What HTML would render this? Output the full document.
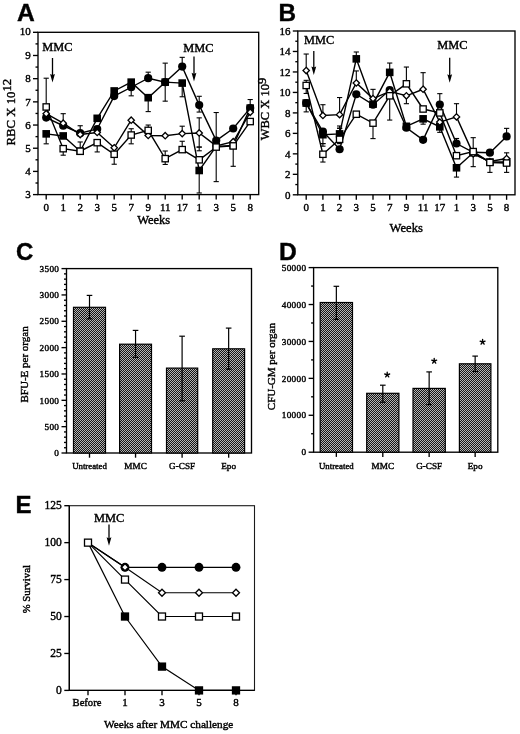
<!DOCTYPE html><html><head><meta charset="utf-8"><style>html,body{margin:0;padding:0;background:#fff;}svg{display:block;font-family:"Liberation Serif",serif;filter:grayscale(1);}svg text{stroke:#000;stroke-width:0.4px;}.pl{font-family:"Liberation Sans",sans-serif;font-weight:bold;}</style></head><body>
<svg width="520" height="734" viewBox="0 0 520 734">
<defs><pattern id="hatch" width="2" height="2" patternUnits="userSpaceOnUse"><rect width="2" height="2" fill="#151515"/><rect x="0" y="0" width="1" height="1" fill="#b4b4b4"/><rect x="1" y="1" width="1" height="1" fill="#b4b4b4"/></pattern></defs>
<rect width="520" height="734" fill="#fff"/>
<text class="pl" x="16.9" y="21.3" font-size="24.6">A</text>
<text class="pl" x="278.4" y="21.2" font-size="24.3">B</text>
<text class="pl" x="16.0" y="260.1" font-size="24">C</text>
<text class="pl" x="279.1" y="260.3" font-size="24.6">D</text>
<text class="pl" x="15.6" y="513.2" font-size="24">E</text>
<rect x="38" y="32.3" width="220.7" height="162.3" stroke="#000" stroke-width="1.35" fill="none"/>
<line x1="33" y1="194.6" x2="38" y2="194.6" stroke="#000" stroke-width="1.35" fill="none"/>
<text x="30.8" y="198.3" font-size="11" text-anchor="end" >3</text>
<line x1="35.5" y1="183.01" x2="38" y2="183.01" stroke="#000" stroke-width="1.35" fill="none"/>
<line x1="33" y1="171.41" x2="38" y2="171.41" stroke="#000" stroke-width="1.35" fill="none"/>
<text x="30.8" y="175.11" font-size="11" text-anchor="end" >4</text>
<line x1="35.5" y1="159.82" x2="38" y2="159.82" stroke="#000" stroke-width="1.35" fill="none"/>
<line x1="33" y1="148.23" x2="38" y2="148.23" stroke="#000" stroke-width="1.35" fill="none"/>
<text x="30.8" y="151.93" font-size="11" text-anchor="end" >5</text>
<line x1="35.5" y1="136.64" x2="38" y2="136.64" stroke="#000" stroke-width="1.35" fill="none"/>
<line x1="33" y1="125.04" x2="38" y2="125.04" stroke="#000" stroke-width="1.35" fill="none"/>
<text x="30.8" y="128.74" font-size="11" text-anchor="end" >6</text>
<line x1="35.5" y1="113.45" x2="38" y2="113.45" stroke="#000" stroke-width="1.35" fill="none"/>
<line x1="33" y1="101.86" x2="38" y2="101.86" stroke="#000" stroke-width="1.35" fill="none"/>
<text x="30.8" y="105.56" font-size="11" text-anchor="end" >7</text>
<line x1="35.5" y1="90.26" x2="38" y2="90.26" stroke="#000" stroke-width="1.35" fill="none"/>
<line x1="33" y1="78.67" x2="38" y2="78.67" stroke="#000" stroke-width="1.35" fill="none"/>
<text x="30.8" y="82.37" font-size="11" text-anchor="end" >8</text>
<line x1="35.5" y1="67.08" x2="38" y2="67.08" stroke="#000" stroke-width="1.35" fill="none"/>
<line x1="33" y1="55.49" x2="38" y2="55.49" stroke="#000" stroke-width="1.35" fill="none"/>
<text x="30.8" y="59.19" font-size="11" text-anchor="end" >9</text>
<line x1="35.5" y1="43.89" x2="38" y2="43.89" stroke="#000" stroke-width="1.35" fill="none"/>
<line x1="33" y1="32.3" x2="38" y2="32.3" stroke="#000" stroke-width="1.35" fill="none"/>
<text x="30.8" y="35.2" font-size="11" text-anchor="end" >10</text>
<line x1="46.2" y1="194.6" x2="46.2" y2="199.6" stroke="#000" stroke-width="1.35" fill="none"/>
<text x="46.2" y="210.6" font-size="11" text-anchor="middle" >0</text>
<line x1="63.2" y1="194.6" x2="63.2" y2="199.6" stroke="#000" stroke-width="1.35" fill="none"/>
<text x="63.2" y="210.6" font-size="11" text-anchor="middle" >1</text>
<line x1="80.2" y1="194.6" x2="80.2" y2="199.6" stroke="#000" stroke-width="1.35" fill="none"/>
<text x="80.2" y="210.6" font-size="11" text-anchor="middle" >2</text>
<line x1="97.2" y1="194.6" x2="97.2" y2="199.6" stroke="#000" stroke-width="1.35" fill="none"/>
<text x="97.2" y="210.6" font-size="11" text-anchor="middle" >3</text>
<line x1="114.2" y1="194.6" x2="114.2" y2="199.6" stroke="#000" stroke-width="1.35" fill="none"/>
<text x="114.2" y="210.6" font-size="11" text-anchor="middle" >5</text>
<line x1="131.2" y1="194.6" x2="131.2" y2="199.6" stroke="#000" stroke-width="1.35" fill="none"/>
<text x="131.2" y="210.6" font-size="11" text-anchor="middle" >7</text>
<line x1="148.2" y1="194.6" x2="148.2" y2="199.6" stroke="#000" stroke-width="1.35" fill="none"/>
<text x="148.2" y="210.6" font-size="11" text-anchor="middle" >9</text>
<line x1="165.2" y1="194.6" x2="165.2" y2="199.6" stroke="#000" stroke-width="1.35" fill="none"/>
<text x="165.2" y="210.6" font-size="11" text-anchor="middle" >11</text>
<line x1="182.2" y1="194.6" x2="182.2" y2="199.6" stroke="#000" stroke-width="1.35" fill="none"/>
<text x="182.2" y="210.6" font-size="11" text-anchor="middle" >17</text>
<line x1="199.2" y1="194.6" x2="199.2" y2="199.6" stroke="#000" stroke-width="1.35" fill="none"/>
<text x="199.2" y="210.6" font-size="11" text-anchor="middle" >1</text>
<line x1="216.2" y1="194.6" x2="216.2" y2="199.6" stroke="#000" stroke-width="1.35" fill="none"/>
<text x="216.2" y="210.6" font-size="11" text-anchor="middle" >3</text>
<line x1="233.2" y1="194.6" x2="233.2" y2="199.6" stroke="#000" stroke-width="1.35" fill="none"/>
<text x="233.2" y="210.6" font-size="11" text-anchor="middle" >5</text>
<line x1="250.2" y1="194.6" x2="250.2" y2="199.6" stroke="#000" stroke-width="1.35" fill="none"/>
<text x="250.2" y="210.6" font-size="11" text-anchor="middle" >8</text>
<text x="137.2" y="224" font-size="12.5" text-anchor="start" >Weeks</text>
<text transform="translate(15.0,145.4) rotate(-90)" font-size="12.75">RBC X 10<tspan dy="-3.9">12</tspan></text>
<text x="42.3" y="51.3" font-size="12.3" text-anchor="start" >MMC</text>
<line x1="52.5" y1="58" x2="52.5" y2="77.5" stroke="#000" stroke-width="1.3"/>
<path d="M50.1 73.9L52.5 75.1L54.9 73.9L52.5 82.5Z" fill="#000"/>
<text x="183.3" y="52" font-size="12.3" text-anchor="start" >MMC</text>
<line x1="194" y1="56.4" x2="194" y2="76.4" stroke="#000" stroke-width="1.3"/>
<path d="M191.6 72.8L194 74L196.4 72.8L194 81.4Z" fill="#000"/>
<line x1="46.2" y1="78.21" x2="46.2" y2="106.96" stroke="#000" stroke-width="1.1"/>
<line x1="43.6" y1="78.21" x2="48.8" y2="78.21" stroke="#000" stroke-width="1.1"/>
<line x1="43.6" y1="106.96" x2="48.8" y2="106.96" stroke="#000" stroke-width="1.1"/>
<line x1="46.2" y1="133.85" x2="46.2" y2="143.82" stroke="#000" stroke-width="1.1"/>
<line x1="43.6" y1="133.85" x2="48.8" y2="133.85" stroke="#000" stroke-width="1.1"/>
<line x1="43.6" y1="143.82" x2="48.8" y2="143.82" stroke="#000" stroke-width="1.1"/>
<line x1="63.2" y1="113.68" x2="63.2" y2="123.19" stroke="#000" stroke-width="1.1"/>
<line x1="60.6" y1="113.68" x2="65.8" y2="113.68" stroke="#000" stroke-width="1.1"/>
<line x1="60.6" y1="123.19" x2="65.8" y2="123.19" stroke="#000" stroke-width="1.1"/>
<line x1="63.2" y1="148.69" x2="63.2" y2="155.18" stroke="#000" stroke-width="1.1"/>
<line x1="60.6" y1="148.69" x2="65.8" y2="148.69" stroke="#000" stroke-width="1.1"/>
<line x1="60.6" y1="155.18" x2="65.8" y2="155.18" stroke="#000" stroke-width="1.1"/>
<line x1="80.2" y1="125.74" x2="80.2" y2="133.16" stroke="#000" stroke-width="1.1"/>
<line x1="77.6" y1="125.74" x2="82.8" y2="125.74" stroke="#000" stroke-width="1.1"/>
<line x1="77.6" y1="133.16" x2="82.8" y2="133.16" stroke="#000" stroke-width="1.1"/>
<line x1="80.2" y1="141.97" x2="80.2" y2="151.24" stroke="#000" stroke-width="1.1"/>
<line x1="77.6" y1="141.97" x2="82.8" y2="141.97" stroke="#000" stroke-width="1.1"/>
<line x1="77.6" y1="151.24" x2="82.8" y2="151.24" stroke="#000" stroke-width="1.1"/>
<line x1="97.2" y1="142.66" x2="97.2" y2="151.94" stroke="#000" stroke-width="1.1"/>
<line x1="94.6" y1="142.66" x2="99.8" y2="142.66" stroke="#000" stroke-width="1.1"/>
<line x1="94.6" y1="151.94" x2="99.8" y2="151.94" stroke="#000" stroke-width="1.1"/>
<line x1="114.2" y1="154.26" x2="114.2" y2="164.23" stroke="#000" stroke-width="1.1"/>
<line x1="111.6" y1="154.26" x2="116.8" y2="154.26" stroke="#000" stroke-width="1.1"/>
<line x1="111.6" y1="164.23" x2="116.8" y2="164.23" stroke="#000" stroke-width="1.1"/>
<line x1="131.2" y1="87.25" x2="131.2" y2="95.83" stroke="#000" stroke-width="1.1"/>
<line x1="128.6" y1="87.25" x2="133.8" y2="87.25" stroke="#000" stroke-width="1.1"/>
<line x1="128.6" y1="95.83" x2="133.8" y2="95.83" stroke="#000" stroke-width="1.1"/>
<line x1="131.2" y1="128.75" x2="131.2" y2="143.82" stroke="#000" stroke-width="1.1"/>
<line x1="128.6" y1="128.75" x2="133.8" y2="128.75" stroke="#000" stroke-width="1.1"/>
<line x1="128.6" y1="143.82" x2="133.8" y2="143.82" stroke="#000" stroke-width="1.1"/>
<line x1="148.2" y1="72.18" x2="148.2" y2="78.21" stroke="#000" stroke-width="1.1"/>
<line x1="145.6" y1="72.18" x2="150.8" y2="72.18" stroke="#000" stroke-width="1.1"/>
<line x1="145.6" y1="78.21" x2="150.8" y2="78.21" stroke="#000" stroke-width="1.1"/>
<line x1="148.2" y1="97.68" x2="148.2" y2="111.6" stroke="#000" stroke-width="1.1"/>
<line x1="145.6" y1="97.68" x2="150.8" y2="97.68" stroke="#000" stroke-width="1.1"/>
<line x1="145.6" y1="111.6" x2="150.8" y2="111.6" stroke="#000" stroke-width="1.1"/>
<line x1="148.2" y1="125.04" x2="148.2" y2="130.38" stroke="#000" stroke-width="1.1"/>
<line x1="145.6" y1="125.04" x2="150.8" y2="125.04" stroke="#000" stroke-width="1.1"/>
<line x1="145.6" y1="130.38" x2="150.8" y2="130.38" stroke="#000" stroke-width="1.1"/>
<line x1="165.2" y1="63.14" x2="165.2" y2="82.15" stroke="#000" stroke-width="1.1"/>
<line x1="162.6" y1="63.14" x2="167.8" y2="63.14" stroke="#000" stroke-width="1.1"/>
<line x1="162.6" y1="82.15" x2="167.8" y2="82.15" stroke="#000" stroke-width="1.1"/>
<line x1="165.2" y1="82.15" x2="165.2" y2="101.16" stroke="#000" stroke-width="1.1"/>
<line x1="162.6" y1="82.15" x2="167.8" y2="82.15" stroke="#000" stroke-width="1.1"/>
<line x1="162.6" y1="101.16" x2="167.8" y2="101.16" stroke="#000" stroke-width="1.1"/>
<line x1="165.2" y1="151.01" x2="165.2" y2="164.46" stroke="#000" stroke-width="1.1"/>
<line x1="162.6" y1="151.01" x2="167.8" y2="151.01" stroke="#000" stroke-width="1.1"/>
<line x1="162.6" y1="164.46" x2="167.8" y2="164.46" stroke="#000" stroke-width="1.1"/>
<line x1="182.2" y1="57.34" x2="182.2" y2="66.61" stroke="#000" stroke-width="1.1"/>
<line x1="179.6" y1="57.34" x2="184.8" y2="57.34" stroke="#000" stroke-width="1.1"/>
<line x1="179.6" y1="66.61" x2="184.8" y2="66.61" stroke="#000" stroke-width="1.1"/>
<line x1="182.2" y1="83.08" x2="182.2" y2="96.76" stroke="#000" stroke-width="1.1"/>
<line x1="179.6" y1="83.08" x2="184.8" y2="83.08" stroke="#000" stroke-width="1.1"/>
<line x1="179.6" y1="96.76" x2="184.8" y2="96.76" stroke="#000" stroke-width="1.1"/>
<line x1="182.2" y1="126.2" x2="182.2" y2="133.62" stroke="#000" stroke-width="1.1"/>
<line x1="179.6" y1="126.2" x2="184.8" y2="126.2" stroke="#000" stroke-width="1.1"/>
<line x1="179.6" y1="133.62" x2="184.8" y2="133.62" stroke="#000" stroke-width="1.1"/>
<line x1="182.2" y1="141.27" x2="182.2" y2="149.62" stroke="#000" stroke-width="1.1"/>
<line x1="179.6" y1="141.27" x2="184.8" y2="141.27" stroke="#000" stroke-width="1.1"/>
<line x1="179.6" y1="149.62" x2="184.8" y2="149.62" stroke="#000" stroke-width="1.1"/>
<line x1="199.2" y1="96.29" x2="199.2" y2="112.06" stroke="#000" stroke-width="1.1"/>
<line x1="196.6" y1="96.29" x2="201.8" y2="96.29" stroke="#000" stroke-width="1.1"/>
<line x1="196.6" y1="112.06" x2="201.8" y2="112.06" stroke="#000" stroke-width="1.1"/>
<line x1="199.2" y1="170.49" x2="199.2" y2="192.98" stroke="#000" stroke-width="1.1"/>
<line x1="196.6" y1="170.49" x2="201.8" y2="170.49" stroke="#000" stroke-width="1.1"/>
<line x1="196.6" y1="192.98" x2="201.8" y2="192.98" stroke="#000" stroke-width="1.1"/>
<line x1="199.2" y1="117.86" x2="199.2" y2="150.78" stroke="#000" stroke-width="1.1"/>
<line x1="196.6" y1="117.86" x2="201.8" y2="117.86" stroke="#000" stroke-width="1.1"/>
<line x1="196.6" y1="150.78" x2="201.8" y2="150.78" stroke="#000" stroke-width="1.1"/>
<line x1="199.2" y1="147.07" x2="199.2" y2="147.07" stroke="#000" stroke-width="1.1"/>
<line x1="196.6" y1="147.07" x2="201.8" y2="147.07" stroke="#000" stroke-width="1.1"/>
<line x1="196.6" y1="147.07" x2="201.8" y2="147.07" stroke="#000" stroke-width="1.1"/>
<line x1="216.2" y1="112.52" x2="216.2" y2="181.62" stroke="#000" stroke-width="1.1"/>
<line x1="213.6" y1="112.52" x2="218.8" y2="112.52" stroke="#000" stroke-width="1.1"/>
<line x1="213.6" y1="181.62" x2="218.8" y2="181.62" stroke="#000" stroke-width="1.1"/>
<line x1="233.2" y1="145.91" x2="233.2" y2="166.31" stroke="#000" stroke-width="1.1"/>
<line x1="230.6" y1="145.91" x2="235.8" y2="145.91" stroke="#000" stroke-width="1.1"/>
<line x1="230.6" y1="166.31" x2="235.8" y2="166.31" stroke="#000" stroke-width="1.1"/>
<line x1="250.2" y1="99.54" x2="250.2" y2="108.12" stroke="#000" stroke-width="1.1"/>
<line x1="247.6" y1="99.54" x2="252.8" y2="99.54" stroke="#000" stroke-width="1.1"/>
<line x1="247.6" y1="108.12" x2="252.8" y2="108.12" stroke="#000" stroke-width="1.1"/>
<polyline points="46.2,133.85 63.2,135.94 80.2,151.24 97.2,118.32 114.2,90.96 131.2,82.15 148.2,97.68 165.2,82.15 182.2,83.08 199.2,170.49 216.2,146.37 233.2,145.45 250.2,108.12" stroke="#000" stroke-width="1.4" fill="none"/>
<polyline points="46.2,117.62 63.2,125.74 80.2,133.16 97.2,128.98 114.2,96.06 131.2,87.25 148.2,78.21 165.2,82.15 182.2,66.61 199.2,105.1 216.2,140.58 233.2,128.52 250.2,108.12" stroke="#000" stroke-width="1.4" fill="none"/>
<polyline points="46.2,113.68 63.2,123.19 80.2,134.55 97.2,132.46 114.2,147.76 131.2,120.17 148.2,135.48 165.2,135.71 182.2,133.62 199.2,132.93 216.2,145.91 233.2,141.74 250.2,112.29" stroke="#000" stroke-width="1.4" fill="none"/>
<polyline points="46.2,106.96 63.2,148.69 80.2,151.24 97.2,142.66 114.2,154.26 131.2,135.01 148.2,130.38 165.2,158.66 182.2,149.62 199.2,159.82 216.2,147.07 233.2,145.91 250.2,121.56" stroke="#000" stroke-width="1.4" fill="none"/>
<rect x="42.4" y="130.05" width="7.6" height="7.6" fill="#000"/>
<rect x="59.4" y="132.14" width="7.6" height="7.6" fill="#000"/>
<rect x="76.4" y="147.44" width="7.6" height="7.6" fill="#000"/>
<rect x="93.4" y="114.52" width="7.6" height="7.6" fill="#000"/>
<rect x="110.4" y="87.16" width="7.6" height="7.6" fill="#000"/>
<rect x="127.4" y="78.35" width="7.6" height="7.6" fill="#000"/>
<rect x="144.4" y="93.88" width="7.6" height="7.6" fill="#000"/>
<rect x="161.4" y="78.35" width="7.6" height="7.6" fill="#000"/>
<rect x="178.4" y="79.28" width="7.6" height="7.6" fill="#000"/>
<rect x="195.4" y="166.69" width="7.6" height="7.6" fill="#000"/>
<rect x="212.4" y="142.57" width="7.6" height="7.6" fill="#000"/>
<rect x="229.4" y="141.65" width="7.6" height="7.6" fill="#000"/>
<rect x="246.4" y="104.32" width="7.6" height="7.6" fill="#000"/>
<circle cx="46.2" cy="117.62" r="4.1" fill="#000"/>
<circle cx="63.2" cy="125.74" r="4.1" fill="#000"/>
<circle cx="80.2" cy="133.16" r="4.1" fill="#000"/>
<circle cx="97.2" cy="128.98" r="4.1" fill="#000"/>
<circle cx="114.2" cy="96.06" r="4.1" fill="#000"/>
<circle cx="131.2" cy="87.25" r="4.1" fill="#000"/>
<circle cx="148.2" cy="78.21" r="4.1" fill="#000"/>
<circle cx="165.2" cy="82.15" r="4.1" fill="#000"/>
<circle cx="182.2" cy="66.61" r="4.1" fill="#000"/>
<circle cx="199.2" cy="105.1" r="4.1" fill="#000"/>
<circle cx="216.2" cy="140.58" r="4.1" fill="#000"/>
<circle cx="233.2" cy="128.52" r="4.1" fill="#000"/>
<circle cx="250.2" cy="108.12" r="4.1" fill="#000"/>
<path d="M46.2 110.49L49.39 113.68L46.2 116.87L43.01 113.68Z" fill="#fff" stroke="#000" stroke-width="1.3"/>
<path d="M63.2 120L66.39 123.19L63.2 126.38L60.01 123.19Z" fill="#fff" stroke="#000" stroke-width="1.3"/>
<path d="M80.2 131.36L83.39 134.55L80.2 137.74L77.01 134.55Z" fill="#fff" stroke="#000" stroke-width="1.3"/>
<path d="M97.2 129.27L100.39 132.46L97.2 135.65L94.01 132.46Z" fill="#fff" stroke="#000" stroke-width="1.3"/>
<path d="M114.2 144.57L117.39 147.76L114.2 150.96L111.01 147.76Z" fill="#fff" stroke="#000" stroke-width="1.3"/>
<path d="M131.2 116.98L134.39 120.17L131.2 123.37L128.01 120.17Z" fill="#fff" stroke="#000" stroke-width="1.3"/>
<path d="M148.2 132.28L151.39 135.48L148.2 138.67L145.01 135.48Z" fill="#fff" stroke="#000" stroke-width="1.3"/>
<path d="M165.2 132.52L168.39 135.71L165.2 138.9L162.01 135.71Z" fill="#fff" stroke="#000" stroke-width="1.3"/>
<path d="M182.2 130.43L185.39 133.62L182.2 136.81L179.01 133.62Z" fill="#fff" stroke="#000" stroke-width="1.3"/>
<path d="M199.2 129.73L202.39 132.93L199.2 136.12L196.01 132.93Z" fill="#fff" stroke="#000" stroke-width="1.3"/>
<path d="M216.2 142.72L219.39 145.91L216.2 149.1L213.01 145.91Z" fill="#fff" stroke="#000" stroke-width="1.3"/>
<path d="M233.2 138.54L236.39 141.74L233.2 144.93L230.01 141.74Z" fill="#fff" stroke="#000" stroke-width="1.3"/>
<path d="M250.2 109.1L253.39 112.29L250.2 115.48L247.01 112.29Z" fill="#fff" stroke="#000" stroke-width="1.3"/>
<rect x="43.05" y="103.81" width="6.3" height="6.3" fill="#fff" stroke="#000" stroke-width="1.3"/>
<rect x="60.05" y="145.54" width="6.3" height="6.3" fill="#fff" stroke="#000" stroke-width="1.3"/>
<rect x="77.05" y="148.09" width="6.3" height="6.3" fill="#fff" stroke="#000" stroke-width="1.3"/>
<rect x="94.05" y="139.51" width="6.3" height="6.3" fill="#fff" stroke="#000" stroke-width="1.3"/>
<rect x="111.05" y="151.11" width="6.3" height="6.3" fill="#fff" stroke="#000" stroke-width="1.3"/>
<rect x="128.05" y="131.86" width="6.3" height="6.3" fill="#fff" stroke="#000" stroke-width="1.3"/>
<rect x="145.05" y="127.23" width="6.3" height="6.3" fill="#fff" stroke="#000" stroke-width="1.3"/>
<rect x="162.05" y="155.51" width="6.3" height="6.3" fill="#fff" stroke="#000" stroke-width="1.3"/>
<rect x="179.05" y="146.47" width="6.3" height="6.3" fill="#fff" stroke="#000" stroke-width="1.3"/>
<rect x="196.05" y="156.67" width="6.3" height="6.3" fill="#fff" stroke="#000" stroke-width="1.3"/>
<rect x="213.05" y="143.92" width="6.3" height="6.3" fill="#fff" stroke="#000" stroke-width="1.3"/>
<rect x="230.05" y="142.76" width="6.3" height="6.3" fill="#fff" stroke="#000" stroke-width="1.3"/>
<rect x="247.05" y="118.41" width="6.3" height="6.3" fill="#fff" stroke="#000" stroke-width="1.3"/>
<rect x="297.8" y="31" width="217.2" height="163.8" stroke="#000" stroke-width="1.35" fill="none"/>
<line x1="292.8" y1="194.8" x2="297.8" y2="194.8" stroke="#000" stroke-width="1.35" fill="none"/>
<text x="290.6" y="198.5" font-size="11" text-anchor="end" >0</text>
<line x1="295.3" y1="184.56" x2="297.8" y2="184.56" stroke="#000" stroke-width="1.35" fill="none"/>
<line x1="292.8" y1="174.33" x2="297.8" y2="174.33" stroke="#000" stroke-width="1.35" fill="none"/>
<text x="290.6" y="178.03" font-size="11" text-anchor="end" >2</text>
<line x1="295.3" y1="164.09" x2="297.8" y2="164.09" stroke="#000" stroke-width="1.35" fill="none"/>
<line x1="292.8" y1="153.85" x2="297.8" y2="153.85" stroke="#000" stroke-width="1.35" fill="none"/>
<text x="290.6" y="157.55" font-size="11" text-anchor="end" >4</text>
<line x1="295.3" y1="143.61" x2="297.8" y2="143.61" stroke="#000" stroke-width="1.35" fill="none"/>
<line x1="292.8" y1="133.38" x2="297.8" y2="133.38" stroke="#000" stroke-width="1.35" fill="none"/>
<text x="290.6" y="137.07" font-size="11" text-anchor="end" >6</text>
<line x1="295.3" y1="123.14" x2="297.8" y2="123.14" stroke="#000" stroke-width="1.35" fill="none"/>
<line x1="292.8" y1="112.9" x2="297.8" y2="112.9" stroke="#000" stroke-width="1.35" fill="none"/>
<text x="290.6" y="116.6" font-size="11" text-anchor="end" >8</text>
<line x1="295.3" y1="102.66" x2="297.8" y2="102.66" stroke="#000" stroke-width="1.35" fill="none"/>
<line x1="292.8" y1="92.43" x2="297.8" y2="92.43" stroke="#000" stroke-width="1.35" fill="none"/>
<text x="290.6" y="96.13" font-size="11" text-anchor="end" >10</text>
<line x1="295.3" y1="82.19" x2="297.8" y2="82.19" stroke="#000" stroke-width="1.35" fill="none"/>
<line x1="292.8" y1="71.95" x2="297.8" y2="71.95" stroke="#000" stroke-width="1.35" fill="none"/>
<text x="290.6" y="75.65" font-size="11" text-anchor="end" >12</text>
<line x1="295.3" y1="61.71" x2="297.8" y2="61.71" stroke="#000" stroke-width="1.35" fill="none"/>
<line x1="292.8" y1="51.47" x2="297.8" y2="51.47" stroke="#000" stroke-width="1.35" fill="none"/>
<text x="290.6" y="55.17" font-size="11" text-anchor="end" >14</text>
<line x1="295.3" y1="41.24" x2="297.8" y2="41.24" stroke="#000" stroke-width="1.35" fill="none"/>
<line x1="292.8" y1="31" x2="297.8" y2="31" stroke="#000" stroke-width="1.35" fill="none"/>
<text x="290.6" y="34.7" font-size="11" text-anchor="end" >16</text>
<line x1="306.2" y1="194.8" x2="306.2" y2="199.8" stroke="#000" stroke-width="1.35" fill="none"/>
<text x="306.2" y="210.6" font-size="11" text-anchor="middle" >0</text>
<line x1="322.9" y1="194.8" x2="322.9" y2="199.8" stroke="#000" stroke-width="1.35" fill="none"/>
<text x="322.9" y="210.6" font-size="11" text-anchor="middle" >1</text>
<line x1="339.6" y1="194.8" x2="339.6" y2="199.8" stroke="#000" stroke-width="1.35" fill="none"/>
<text x="339.6" y="210.6" font-size="11" text-anchor="middle" >2</text>
<line x1="356.3" y1="194.8" x2="356.3" y2="199.8" stroke="#000" stroke-width="1.35" fill="none"/>
<text x="356.3" y="210.6" font-size="11" text-anchor="middle" >3</text>
<line x1="373" y1="194.8" x2="373" y2="199.8" stroke="#000" stroke-width="1.35" fill="none"/>
<text x="373" y="210.6" font-size="11" text-anchor="middle" >5</text>
<line x1="389.7" y1="194.8" x2="389.7" y2="199.8" stroke="#000" stroke-width="1.35" fill="none"/>
<text x="389.7" y="210.6" font-size="11" text-anchor="middle" >7</text>
<line x1="406.4" y1="194.8" x2="406.4" y2="199.8" stroke="#000" stroke-width="1.35" fill="none"/>
<text x="406.4" y="210.6" font-size="11" text-anchor="middle" >9</text>
<line x1="423.1" y1="194.8" x2="423.1" y2="199.8" stroke="#000" stroke-width="1.35" fill="none"/>
<text x="423.1" y="210.6" font-size="11" text-anchor="middle" >11</text>
<line x1="439.8" y1="194.8" x2="439.8" y2="199.8" stroke="#000" stroke-width="1.35" fill="none"/>
<text x="439.8" y="210.6" font-size="11" text-anchor="middle" >17</text>
<line x1="456.5" y1="194.8" x2="456.5" y2="199.8" stroke="#000" stroke-width="1.35" fill="none"/>
<text x="456.5" y="210.6" font-size="11" text-anchor="middle" >1</text>
<line x1="473.2" y1="194.8" x2="473.2" y2="199.8" stroke="#000" stroke-width="1.35" fill="none"/>
<text x="473.2" y="210.6" font-size="11" text-anchor="middle" >3</text>
<line x1="489.9" y1="194.8" x2="489.9" y2="199.8" stroke="#000" stroke-width="1.35" fill="none"/>
<text x="489.9" y="210.6" font-size="11" text-anchor="middle" >5</text>
<line x1="506.6" y1="194.8" x2="506.6" y2="199.8" stroke="#000" stroke-width="1.35" fill="none"/>
<text x="506.6" y="210.6" font-size="11" text-anchor="middle" >8</text>
<text x="389.6" y="231.7" font-size="12.6" text-anchor="start" >Weeks</text>
<text transform="translate(269.3,140.3) rotate(-90)" font-size="12.5">WBC X 10<tspan dy="-3.5">9</tspan></text>
<text x="304.1" y="44.4" font-size="12.3" text-anchor="start" >MMC</text>
<line x1="313.8" y1="51" x2="313.8" y2="70" stroke="#000" stroke-width="1.3"/>
<path d="M311.4 66.4L313.8 67.6L316.2 66.4L313.8 75Z" fill="#000"/>
<text x="437.3" y="49.2" font-size="12.3" text-anchor="start" >MMC</text>
<line x1="449.7" y1="57.8" x2="449.7" y2="77.8" stroke="#000" stroke-width="1.3"/>
<path d="M447.3 74.2L449.7 75.4L452.1 74.2L449.7 82.8Z" fill="#000"/>
<line x1="306.2" y1="54.03" x2="306.2" y2="70.52" stroke="#000" stroke-width="1.1"/>
<line x1="303.6" y1="54.03" x2="308.8" y2="54.03" stroke="#000" stroke-width="1.1"/>
<line x1="303.6" y1="70.52" x2="308.8" y2="70.52" stroke="#000" stroke-width="1.1"/>
<line x1="306.2" y1="80.34" x2="306.2" y2="93.45" stroke="#000" stroke-width="1.1"/>
<line x1="303.6" y1="80.34" x2="308.8" y2="80.34" stroke="#000" stroke-width="1.1"/>
<line x1="303.6" y1="93.45" x2="308.8" y2="93.45" stroke="#000" stroke-width="1.1"/>
<line x1="306.2" y1="103.07" x2="306.2" y2="111.88" stroke="#000" stroke-width="1.1"/>
<line x1="303.6" y1="103.07" x2="308.8" y2="103.07" stroke="#000" stroke-width="1.1"/>
<line x1="303.6" y1="111.88" x2="308.8" y2="111.88" stroke="#000" stroke-width="1.1"/>
<line x1="322.9" y1="104.71" x2="322.9" y2="115.46" stroke="#000" stroke-width="1.1"/>
<line x1="320.3" y1="104.71" x2="325.5" y2="104.71" stroke="#000" stroke-width="1.1"/>
<line x1="320.3" y1="115.46" x2="325.5" y2="115.46" stroke="#000" stroke-width="1.1"/>
<line x1="322.9" y1="131.53" x2="322.9" y2="146.17" stroke="#000" stroke-width="1.1"/>
<line x1="320.3" y1="131.53" x2="325.5" y2="131.53" stroke="#000" stroke-width="1.1"/>
<line x1="320.3" y1="146.17" x2="325.5" y2="146.17" stroke="#000" stroke-width="1.1"/>
<line x1="322.9" y1="143.61" x2="322.9" y2="143.61" stroke="#000" stroke-width="1.1"/>
<line x1="320.3" y1="143.61" x2="325.5" y2="143.61" stroke="#000" stroke-width="1.1"/>
<line x1="320.3" y1="143.61" x2="325.5" y2="143.61" stroke="#000" stroke-width="1.1"/>
<line x1="322.9" y1="154.26" x2="322.9" y2="162.04" stroke="#000" stroke-width="1.1"/>
<line x1="320.3" y1="154.26" x2="325.5" y2="154.26" stroke="#000" stroke-width="1.1"/>
<line x1="320.3" y1="162.04" x2="325.5" y2="162.04" stroke="#000" stroke-width="1.1"/>
<line x1="339.6" y1="97.54" x2="339.6" y2="114.64" stroke="#000" stroke-width="1.1"/>
<line x1="337" y1="97.54" x2="342.2" y2="97.54" stroke="#000" stroke-width="1.1"/>
<line x1="337" y1="114.64" x2="342.2" y2="114.64" stroke="#000" stroke-width="1.1"/>
<line x1="339.6" y1="126" x2="339.6" y2="133.89" stroke="#000" stroke-width="1.1"/>
<line x1="337" y1="126" x2="342.2" y2="126" stroke="#000" stroke-width="1.1"/>
<line x1="337" y1="133.89" x2="342.2" y2="133.89" stroke="#000" stroke-width="1.1"/>
<line x1="339.6" y1="128.26" x2="339.6" y2="128.26" stroke="#000" stroke-width="1.1"/>
<line x1="337" y1="128.26" x2="342.2" y2="128.26" stroke="#000" stroke-width="1.1"/>
<line x1="337" y1="128.26" x2="342.2" y2="128.26" stroke="#000" stroke-width="1.1"/>
<line x1="339.6" y1="133.89" x2="339.6" y2="143.61" stroke="#000" stroke-width="1.1"/>
<line x1="337" y1="133.89" x2="342.2" y2="133.89" stroke="#000" stroke-width="1.1"/>
<line x1="337" y1="143.61" x2="342.2" y2="143.61" stroke="#000" stroke-width="1.1"/>
<line x1="356.3" y1="51.99" x2="356.3" y2="58.85" stroke="#000" stroke-width="1.1"/>
<line x1="353.7" y1="51.99" x2="358.9" y2="51.99" stroke="#000" stroke-width="1.1"/>
<line x1="353.7" y1="58.85" x2="358.9" y2="58.85" stroke="#000" stroke-width="1.1"/>
<line x1="356.3" y1="70.93" x2="356.3" y2="83.01" stroke="#000" stroke-width="1.1"/>
<line x1="353.7" y1="70.93" x2="358.9" y2="70.93" stroke="#000" stroke-width="1.1"/>
<line x1="353.7" y1="83.01" x2="358.9" y2="83.01" stroke="#000" stroke-width="1.1"/>
<line x1="373" y1="89.35" x2="373" y2="98.57" stroke="#000" stroke-width="1.1"/>
<line x1="370.4" y1="89.35" x2="375.6" y2="89.35" stroke="#000" stroke-width="1.1"/>
<line x1="370.4" y1="98.57" x2="375.6" y2="98.57" stroke="#000" stroke-width="1.1"/>
<line x1="373" y1="123.14" x2="373" y2="138.6" stroke="#000" stroke-width="1.1"/>
<line x1="370.4" y1="123.14" x2="375.6" y2="123.14" stroke="#000" stroke-width="1.1"/>
<line x1="370.4" y1="138.6" x2="375.6" y2="138.6" stroke="#000" stroke-width="1.1"/>
<line x1="389.7" y1="63.04" x2="389.7" y2="72.36" stroke="#000" stroke-width="1.1"/>
<line x1="387.1" y1="63.04" x2="392.3" y2="63.04" stroke="#000" stroke-width="1.1"/>
<line x1="387.1" y1="72.36" x2="392.3" y2="72.36" stroke="#000" stroke-width="1.1"/>
<line x1="389.7" y1="95.8" x2="389.7" y2="120.07" stroke="#000" stroke-width="1.1"/>
<line x1="387.1" y1="95.8" x2="392.3" y2="95.8" stroke="#000" stroke-width="1.1"/>
<line x1="387.1" y1="120.07" x2="392.3" y2="120.07" stroke="#000" stroke-width="1.1"/>
<line x1="406.4" y1="67.04" x2="406.4" y2="83.83" stroke="#000" stroke-width="1.1"/>
<line x1="403.8" y1="67.04" x2="409" y2="67.04" stroke="#000" stroke-width="1.1"/>
<line x1="403.8" y1="83.83" x2="409" y2="83.83" stroke="#000" stroke-width="1.1"/>
<line x1="406.4" y1="95.8" x2="406.4" y2="103.69" stroke="#000" stroke-width="1.1"/>
<line x1="403.8" y1="95.8" x2="409" y2="95.8" stroke="#000" stroke-width="1.1"/>
<line x1="403.8" y1="103.69" x2="409" y2="103.69" stroke="#000" stroke-width="1.1"/>
<line x1="423.1" y1="72.67" x2="423.1" y2="89.25" stroke="#000" stroke-width="1.1"/>
<line x1="420.5" y1="72.67" x2="425.7" y2="72.67" stroke="#000" stroke-width="1.1"/>
<line x1="420.5" y1="89.25" x2="425.7" y2="89.25" stroke="#000" stroke-width="1.1"/>
<line x1="423.1" y1="118.84" x2="423.1" y2="124.16" stroke="#000" stroke-width="1.1"/>
<line x1="420.5" y1="118.84" x2="425.7" y2="118.84" stroke="#000" stroke-width="1.1"/>
<line x1="420.5" y1="124.16" x2="425.7" y2="124.16" stroke="#000" stroke-width="1.1"/>
<line x1="439.8" y1="93.65" x2="439.8" y2="104.51" stroke="#000" stroke-width="1.1"/>
<line x1="437.2" y1="93.65" x2="442.4" y2="93.65" stroke="#000" stroke-width="1.1"/>
<line x1="437.2" y1="104.51" x2="442.4" y2="104.51" stroke="#000" stroke-width="1.1"/>
<line x1="439.8" y1="126.82" x2="439.8" y2="132.35" stroke="#000" stroke-width="1.1"/>
<line x1="437.2" y1="126.82" x2="442.4" y2="126.82" stroke="#000" stroke-width="1.1"/>
<line x1="437.2" y1="132.35" x2="442.4" y2="132.35" stroke="#000" stroke-width="1.1"/>
<line x1="456.5" y1="103.69" x2="456.5" y2="116.89" stroke="#000" stroke-width="1.1"/>
<line x1="453.9" y1="103.69" x2="459.1" y2="103.69" stroke="#000" stroke-width="1.1"/>
<line x1="453.9" y1="116.89" x2="459.1" y2="116.89" stroke="#000" stroke-width="1.1"/>
<line x1="456.5" y1="167.77" x2="456.5" y2="177.09" stroke="#000" stroke-width="1.1"/>
<line x1="453.9" y1="167.77" x2="459.1" y2="167.77" stroke="#000" stroke-width="1.1"/>
<line x1="453.9" y1="177.09" x2="459.1" y2="177.09" stroke="#000" stroke-width="1.1"/>
<line x1="456.5" y1="138.49" x2="456.5" y2="143.51" stroke="#000" stroke-width="1.1"/>
<line x1="453.9" y1="138.49" x2="459.1" y2="138.49" stroke="#000" stroke-width="1.1"/>
<line x1="453.9" y1="143.51" x2="459.1" y2="143.51" stroke="#000" stroke-width="1.1"/>
<line x1="473.2" y1="137.67" x2="473.2" y2="151.6" stroke="#000" stroke-width="1.1"/>
<line x1="470.6" y1="137.67" x2="475.8" y2="137.67" stroke="#000" stroke-width="1.1"/>
<line x1="470.6" y1="151.6" x2="475.8" y2="151.6" stroke="#000" stroke-width="1.1"/>
<line x1="473.2" y1="153.85" x2="473.2" y2="166.65" stroke="#000" stroke-width="1.1"/>
<line x1="470.6" y1="153.85" x2="475.8" y2="153.85" stroke="#000" stroke-width="1.1"/>
<line x1="470.6" y1="166.65" x2="475.8" y2="166.65" stroke="#000" stroke-width="1.1"/>
<line x1="489.9" y1="162.45" x2="489.9" y2="172.38" stroke="#000" stroke-width="1.1"/>
<line x1="487.3" y1="162.45" x2="492.5" y2="162.45" stroke="#000" stroke-width="1.1"/>
<line x1="487.3" y1="172.38" x2="492.5" y2="172.38" stroke="#000" stroke-width="1.1"/>
<line x1="506.6" y1="128.36" x2="506.6" y2="136.45" stroke="#000" stroke-width="1.1"/>
<line x1="504" y1="128.36" x2="509.2" y2="128.36" stroke="#000" stroke-width="1.1"/>
<line x1="504" y1="136.45" x2="509.2" y2="136.45" stroke="#000" stroke-width="1.1"/>
<line x1="506.6" y1="163.06" x2="506.6" y2="172.38" stroke="#000" stroke-width="1.1"/>
<line x1="504" y1="163.06" x2="509.2" y2="163.06" stroke="#000" stroke-width="1.1"/>
<line x1="504" y1="172.38" x2="509.2" y2="172.38" stroke="#000" stroke-width="1.1"/>
<line x1="506.6" y1="152.83" x2="506.6" y2="158.56" stroke="#000" stroke-width="1.1"/>
<line x1="504" y1="152.83" x2="509.2" y2="152.83" stroke="#000" stroke-width="1.1"/>
<line x1="504" y1="158.56" x2="509.2" y2="158.56" stroke="#000" stroke-width="1.1"/>
<polyline points="306.2,103.07 322.9,134.71 339.6,133.89 356.3,58.85 373,104.2 389.7,72.36 406.4,126.31 423.1,118.84 439.8,126.82 456.5,167.77 473.2,152.83 489.9,162.04 506.6,162.04" stroke="#000" stroke-width="1.4" fill="none"/>
<polyline points="306.2,103.07 322.9,131.53 339.6,149.24 356.3,94.27 373,104.71 389.7,90.07 406.4,127.74 423.1,139.82 439.8,104.51 456.5,143.51 473.2,152.31 489.9,152.72 506.6,136.45" stroke="#000" stroke-width="1.4" fill="none"/>
<polyline points="306.2,70.52 322.9,115.46 339.6,114.64 356.3,83.01 373,98.57 389.7,91.4 406.4,95.8 423.1,89.25 439.8,122.11 456.5,116.89 473.2,153.85 489.9,161.53 506.6,158.56" stroke="#000" stroke-width="1.4" fill="none"/>
<polyline points="306.2,85.46 322.9,154.26 339.6,139.31 356.3,114.23 373,123.14 389.7,95.8 406.4,83.83 423.1,109.01 439.8,112.9 456.5,155.69 473.2,151.6 489.9,162.45 506.6,163.06" stroke="#000" stroke-width="1.4" fill="none"/>
<circle cx="306.2" cy="103.07" r="4.1" fill="#000"/>
<circle cx="322.9" cy="131.53" r="4.1" fill="#000"/>
<circle cx="339.6" cy="149.24" r="4.1" fill="#000"/>
<circle cx="356.3" cy="94.27" r="4.1" fill="#000"/>
<circle cx="373" cy="104.71" r="4.1" fill="#000"/>
<circle cx="389.7" cy="90.07" r="4.1" fill="#000"/>
<circle cx="406.4" cy="127.74" r="4.1" fill="#000"/>
<circle cx="423.1" cy="139.82" r="4.1" fill="#000"/>
<circle cx="439.8" cy="104.51" r="4.1" fill="#000"/>
<circle cx="456.5" cy="143.51" r="4.1" fill="#000"/>
<circle cx="473.2" cy="152.31" r="4.1" fill="#000"/>
<circle cx="489.9" cy="152.72" r="4.1" fill="#000"/>
<circle cx="506.6" cy="136.45" r="4.1" fill="#000"/>
<rect x="302.4" y="99.27" width="7.6" height="7.6" fill="#000"/>
<rect x="319.1" y="130.91" width="7.6" height="7.6" fill="#000"/>
<rect x="335.8" y="130.09" width="7.6" height="7.6" fill="#000"/>
<rect x="352.5" y="55.05" width="7.6" height="7.6" fill="#000"/>
<rect x="369.2" y="100.4" width="7.6" height="7.6" fill="#000"/>
<rect x="385.9" y="68.56" width="7.6" height="7.6" fill="#000"/>
<rect x="402.6" y="122.51" width="7.6" height="7.6" fill="#000"/>
<rect x="419.3" y="115.04" width="7.6" height="7.6" fill="#000"/>
<rect x="436" y="123.02" width="7.6" height="7.6" fill="#000"/>
<rect x="452.7" y="163.97" width="7.6" height="7.6" fill="#000"/>
<rect x="469.4" y="149.03" width="7.6" height="7.6" fill="#000"/>
<rect x="486.1" y="158.24" width="7.6" height="7.6" fill="#000"/>
<rect x="502.8" y="158.24" width="7.6" height="7.6" fill="#000"/>
<path d="M306.2 67.32L309.39 70.52L306.2 73.71L303.01 70.52Z" fill="#fff" stroke="#000" stroke-width="1.3"/>
<path d="M322.9 112.27L326.09 115.46L322.9 118.65L319.71 115.46Z" fill="#fff" stroke="#000" stroke-width="1.3"/>
<path d="M339.6 111.45L342.79 114.64L339.6 117.83L336.41 114.64Z" fill="#fff" stroke="#000" stroke-width="1.3"/>
<path d="M356.3 79.81L359.49 83.01L356.3 86.2L353.11 83.01Z" fill="#fff" stroke="#000" stroke-width="1.3"/>
<path d="M373 95.38L376.19 98.57L373 101.76L369.81 98.57Z" fill="#fff" stroke="#000" stroke-width="1.3"/>
<path d="M389.7 88.21L392.89 91.4L389.7 94.59L386.51 91.4Z" fill="#fff" stroke="#000" stroke-width="1.3"/>
<path d="M406.4 92.61L409.59 95.8L406.4 99L403.21 95.8Z" fill="#fff" stroke="#000" stroke-width="1.3"/>
<path d="M423.1 86.06L426.29 89.25L423.1 92.44L419.91 89.25Z" fill="#fff" stroke="#000" stroke-width="1.3"/>
<path d="M439.8 118.92L442.99 122.11L439.8 125.31L436.61 122.11Z" fill="#fff" stroke="#000" stroke-width="1.3"/>
<path d="M456.5 113.7L459.69 116.89L456.5 120.08L453.31 116.89Z" fill="#fff" stroke="#000" stroke-width="1.3"/>
<path d="M473.2 150.66L476.39 153.85L473.2 157.04L470.01 153.85Z" fill="#fff" stroke="#000" stroke-width="1.3"/>
<path d="M489.9 158.34L493.09 161.53L489.9 164.72L486.71 161.53Z" fill="#fff" stroke="#000" stroke-width="1.3"/>
<path d="M506.6 155.37L509.79 158.56L506.6 161.75L503.41 158.56Z" fill="#fff" stroke="#000" stroke-width="1.3"/>
<rect x="303.05" y="82.31" width="6.3" height="6.3" fill="#fff" stroke="#000" stroke-width="1.3"/>
<rect x="319.75" y="151.11" width="6.3" height="6.3" fill="#fff" stroke="#000" stroke-width="1.3"/>
<rect x="336.45" y="136.16" width="6.3" height="6.3" fill="#fff" stroke="#000" stroke-width="1.3"/>
<rect x="353.15" y="111.08" width="6.3" height="6.3" fill="#fff" stroke="#000" stroke-width="1.3"/>
<rect x="369.85" y="119.99" width="6.3" height="6.3" fill="#fff" stroke="#000" stroke-width="1.3"/>
<rect x="386.55" y="92.65" width="6.3" height="6.3" fill="#fff" stroke="#000" stroke-width="1.3"/>
<rect x="403.25" y="80.68" width="6.3" height="6.3" fill="#fff" stroke="#000" stroke-width="1.3"/>
<rect x="419.95" y="105.86" width="6.3" height="6.3" fill="#fff" stroke="#000" stroke-width="1.3"/>
<rect x="436.65" y="109.75" width="6.3" height="6.3" fill="#fff" stroke="#000" stroke-width="1.3"/>
<rect x="453.35" y="152.54" width="6.3" height="6.3" fill="#fff" stroke="#000" stroke-width="1.3"/>
<rect x="470.05" y="148.45" width="6.3" height="6.3" fill="#fff" stroke="#000" stroke-width="1.3"/>
<rect x="486.75" y="159.3" width="6.3" height="6.3" fill="#fff" stroke="#000" stroke-width="1.3"/>
<rect x="503.45" y="159.91" width="6.3" height="6.3" fill="#fff" stroke="#000" stroke-width="1.3"/>
<rect x="66.5" y="268.6" width="185" height="184.4" stroke="#000" stroke-width="1.35" fill="none"/>
<line x1="61.5" y1="453" x2="66.5" y2="453" stroke="#000" stroke-width="1.35" fill="none"/>
<text x="59.2" y="456.2" font-size="9.2" text-anchor="end" letter-spacing="0.3">0</text>
<line x1="61.5" y1="426.66" x2="66.5" y2="426.66" stroke="#000" stroke-width="1.35" fill="none"/>
<text x="59.2" y="429.86" font-size="9.2" text-anchor="end" letter-spacing="0.3">500</text>
<line x1="61.5" y1="400.31" x2="66.5" y2="400.31" stroke="#000" stroke-width="1.35" fill="none"/>
<text x="59.2" y="403.51" font-size="9.2" text-anchor="end" letter-spacing="0.3">1000</text>
<line x1="61.5" y1="373.97" x2="66.5" y2="373.97" stroke="#000" stroke-width="1.35" fill="none"/>
<text x="59.2" y="377.17" font-size="9.2" text-anchor="end" letter-spacing="0.3">1500</text>
<line x1="61.5" y1="347.63" x2="66.5" y2="347.63" stroke="#000" stroke-width="1.35" fill="none"/>
<text x="59.2" y="350.83" font-size="9.2" text-anchor="end" letter-spacing="0.3">2000</text>
<line x1="61.5" y1="321.29" x2="66.5" y2="321.29" stroke="#000" stroke-width="1.35" fill="none"/>
<text x="59.2" y="324.49" font-size="9.2" text-anchor="end" letter-spacing="0.3">2500</text>
<line x1="61.5" y1="294.94" x2="66.5" y2="294.94" stroke="#000" stroke-width="1.35" fill="none"/>
<text x="59.2" y="298.14" font-size="9.2" text-anchor="end" letter-spacing="0.3">3000</text>
<line x1="61.5" y1="268.6" x2="66.5" y2="268.6" stroke="#000" stroke-width="1.35" fill="none"/>
<text x="59.2" y="271.8" font-size="9.2" text-anchor="end" letter-spacing="0.3">3500</text>
<line x1="64" y1="447.73" x2="66.5" y2="447.73" stroke="#000" stroke-width="1.35" fill="none"/>
<line x1="64" y1="442.46" x2="66.5" y2="442.46" stroke="#000" stroke-width="1.35" fill="none"/>
<line x1="64" y1="437.19" x2="66.5" y2="437.19" stroke="#000" stroke-width="1.35" fill="none"/>
<line x1="64" y1="431.93" x2="66.5" y2="431.93" stroke="#000" stroke-width="1.35" fill="none"/>
<line x1="64" y1="421.39" x2="66.5" y2="421.39" stroke="#000" stroke-width="1.35" fill="none"/>
<line x1="64" y1="416.12" x2="66.5" y2="416.12" stroke="#000" stroke-width="1.35" fill="none"/>
<line x1="64" y1="410.85" x2="66.5" y2="410.85" stroke="#000" stroke-width="1.35" fill="none"/>
<line x1="64" y1="405.58" x2="66.5" y2="405.58" stroke="#000" stroke-width="1.35" fill="none"/>
<line x1="64" y1="395.05" x2="66.5" y2="395.05" stroke="#000" stroke-width="1.35" fill="none"/>
<line x1="64" y1="389.78" x2="66.5" y2="389.78" stroke="#000" stroke-width="1.35" fill="none"/>
<line x1="64" y1="384.51" x2="66.5" y2="384.51" stroke="#000" stroke-width="1.35" fill="none"/>
<line x1="64" y1="379.24" x2="66.5" y2="379.24" stroke="#000" stroke-width="1.35" fill="none"/>
<line x1="64" y1="368.7" x2="66.5" y2="368.7" stroke="#000" stroke-width="1.35" fill="none"/>
<line x1="64" y1="363.43" x2="66.5" y2="363.43" stroke="#000" stroke-width="1.35" fill="none"/>
<line x1="64" y1="358.17" x2="66.5" y2="358.17" stroke="#000" stroke-width="1.35" fill="none"/>
<line x1="64" y1="352.9" x2="66.5" y2="352.9" stroke="#000" stroke-width="1.35" fill="none"/>
<line x1="64" y1="342.36" x2="66.5" y2="342.36" stroke="#000" stroke-width="1.35" fill="none"/>
<line x1="64" y1="337.09" x2="66.5" y2="337.09" stroke="#000" stroke-width="1.35" fill="none"/>
<line x1="64" y1="331.82" x2="66.5" y2="331.82" stroke="#000" stroke-width="1.35" fill="none"/>
<line x1="64" y1="326.55" x2="66.5" y2="326.55" stroke="#000" stroke-width="1.35" fill="none"/>
<line x1="64" y1="316.02" x2="66.5" y2="316.02" stroke="#000" stroke-width="1.35" fill="none"/>
<line x1="64" y1="310.75" x2="66.5" y2="310.75" stroke="#000" stroke-width="1.35" fill="none"/>
<line x1="64" y1="305.48" x2="66.5" y2="305.48" stroke="#000" stroke-width="1.35" fill="none"/>
<line x1="64" y1="300.21" x2="66.5" y2="300.21" stroke="#000" stroke-width="1.35" fill="none"/>
<line x1="64" y1="289.67" x2="66.5" y2="289.67" stroke="#000" stroke-width="1.35" fill="none"/>
<line x1="64" y1="284.41" x2="66.5" y2="284.41" stroke="#000" stroke-width="1.35" fill="none"/>
<line x1="64" y1="279.14" x2="66.5" y2="279.14" stroke="#000" stroke-width="1.35" fill="none"/>
<line x1="64" y1="273.87" x2="66.5" y2="273.87" stroke="#000" stroke-width="1.35" fill="none"/>
<rect x="73.5" y="307.3" width="32" height="145.7" fill="url(#hatch)" stroke="#000" stroke-width="1.2"/>
<line x1="89.5" y1="295.4" x2="89.5" y2="318.8" stroke="#000" stroke-width="1.2"/>
<line x1="86.7" y1="295.4" x2="92.3" y2="295.4" stroke="#000" stroke-width="1.2"/>
<line x1="86.7" y1="318.8" x2="92.3" y2="318.8" stroke="#000" stroke-width="1.2"/>
<line x1="89.5" y1="453" x2="89.5" y2="457.7" stroke="#000" stroke-width="1.35" fill="none"/>
<text x="89.5" y="468.7" font-size="8.8" text-anchor="middle" >Untreated</text>
<rect x="119.6" y="344.2" width="31.9" height="108.8" fill="url(#hatch)" stroke="#000" stroke-width="1.2"/>
<line x1="135.55" y1="330.4" x2="135.55" y2="357.3" stroke="#000" stroke-width="1.2"/>
<line x1="132.75" y1="330.4" x2="138.35" y2="330.4" stroke="#000" stroke-width="1.2"/>
<line x1="132.75" y1="357.3" x2="138.35" y2="357.3" stroke="#000" stroke-width="1.2"/>
<line x1="135.55" y1="453" x2="135.55" y2="457.7" stroke="#000" stroke-width="1.35" fill="none"/>
<text x="135.55" y="468.7" font-size="9.2" text-anchor="middle" >MMC</text>
<rect x="166.5" y="368.1" width="31.2" height="84.9" fill="url(#hatch)" stroke="#000" stroke-width="1.2"/>
<line x1="182.1" y1="336.2" x2="182.1" y2="400.8" stroke="#000" stroke-width="1.2"/>
<line x1="179.3" y1="336.2" x2="184.9" y2="336.2" stroke="#000" stroke-width="1.2"/>
<line x1="179.3" y1="400.8" x2="184.9" y2="400.8" stroke="#000" stroke-width="1.2"/>
<line x1="182.1" y1="453" x2="182.1" y2="457.7" stroke="#000" stroke-width="1.35" fill="none"/>
<text x="182.1" y="468.7" font-size="9.2" text-anchor="middle" >G-CSF</text>
<rect x="212.7" y="348.8" width="31.9" height="104.2" fill="url(#hatch)" stroke="#000" stroke-width="1.2"/>
<line x1="228.65" y1="328.1" x2="228.65" y2="369.2" stroke="#000" stroke-width="1.2"/>
<line x1="225.85" y1="328.1" x2="231.45" y2="328.1" stroke="#000" stroke-width="1.2"/>
<line x1="225.85" y1="369.2" x2="231.45" y2="369.2" stroke="#000" stroke-width="1.2"/>
<line x1="228.65" y1="453" x2="228.65" y2="457.7" stroke="#000" stroke-width="1.35" fill="none"/>
<text x="228.65" y="468.7" font-size="9.2" text-anchor="middle" >Epo</text>
<text transform="translate(27.8,364.4) rotate(-90)" font-size="11" text-anchor="middle">BFU-E per organ</text>
<rect x="313.6" y="267.6" width="184.2" height="184.6" stroke="#000" stroke-width="1.35" fill="none"/>
<line x1="308.6" y1="452.2" x2="313.6" y2="452.2" stroke="#000" stroke-width="1.35" fill="none"/>
<text x="306.3" y="455.4" font-size="9.2" text-anchor="end" letter-spacing="0.3">0</text>
<line x1="308.6" y1="415.28" x2="313.6" y2="415.28" stroke="#000" stroke-width="1.35" fill="none"/>
<text x="306.3" y="418.48" font-size="9.2" text-anchor="end" letter-spacing="0.3">10000</text>
<line x1="308.6" y1="378.36" x2="313.6" y2="378.36" stroke="#000" stroke-width="1.35" fill="none"/>
<text x="306.3" y="381.56" font-size="9.2" text-anchor="end" letter-spacing="0.3">20000</text>
<line x1="308.6" y1="341.44" x2="313.6" y2="341.44" stroke="#000" stroke-width="1.35" fill="none"/>
<text x="306.3" y="344.64" font-size="9.2" text-anchor="end" letter-spacing="0.3">30000</text>
<line x1="308.6" y1="304.52" x2="313.6" y2="304.52" stroke="#000" stroke-width="1.35" fill="none"/>
<text x="306.3" y="307.72" font-size="9.2" text-anchor="end" letter-spacing="0.3">40000</text>
<line x1="308.6" y1="267.6" x2="313.6" y2="267.6" stroke="#000" stroke-width="1.35" fill="none"/>
<text x="306.3" y="270.8" font-size="9.2" text-anchor="end" letter-spacing="0.3">50000</text>
<line x1="311.1" y1="433.74" x2="313.6" y2="433.74" stroke="#000" stroke-width="1.35" fill="none"/>
<line x1="311.1" y1="396.82" x2="313.6" y2="396.82" stroke="#000" stroke-width="1.35" fill="none"/>
<line x1="311.1" y1="359.9" x2="313.6" y2="359.9" stroke="#000" stroke-width="1.35" fill="none"/>
<line x1="311.1" y1="322.98" x2="313.6" y2="322.98" stroke="#000" stroke-width="1.35" fill="none"/>
<line x1="311.1" y1="286.06" x2="313.6" y2="286.06" stroke="#000" stroke-width="1.35" fill="none"/>
<rect x="320.2" y="302.5" width="32.3" height="149.7" fill="url(#hatch)" stroke="#000" stroke-width="1.2"/>
<line x1="336.35" y1="286.3" x2="336.35" y2="319.4" stroke="#000" stroke-width="1.2"/>
<line x1="333.55" y1="286.3" x2="339.15" y2="286.3" stroke="#000" stroke-width="1.2"/>
<line x1="333.55" y1="319.4" x2="339.15" y2="319.4" stroke="#000" stroke-width="1.2"/>
<line x1="336.35" y1="452.2" x2="336.35" y2="456.9" stroke="#000" stroke-width="1.35" fill="none"/>
<text x="336.35" y="468.7" font-size="8.8" text-anchor="middle" >Untreated</text>
<rect x="366.7" y="393.3" width="32.2" height="58.9" fill="url(#hatch)" stroke="#000" stroke-width="1.2"/>
<line x1="382.8" y1="385.2" x2="382.8" y2="402.2" stroke="#000" stroke-width="1.2"/>
<line x1="380" y1="385.2" x2="385.6" y2="385.2" stroke="#000" stroke-width="1.2"/>
<line x1="380" y1="402.2" x2="385.6" y2="402.2" stroke="#000" stroke-width="1.2"/>
<line x1="382.8" y1="452.2" x2="382.8" y2="456.9" stroke="#000" stroke-width="1.35" fill="none"/>
<text x="382.8" y="468.7" font-size="9.2" text-anchor="middle" >MMC</text>
<rect x="413" y="388.4" width="32.3" height="63.8" fill="url(#hatch)" stroke="#000" stroke-width="1.2"/>
<line x1="429.15" y1="371.9" x2="429.15" y2="404.6" stroke="#000" stroke-width="1.2"/>
<line x1="426.35" y1="371.9" x2="431.95" y2="371.9" stroke="#000" stroke-width="1.2"/>
<line x1="426.35" y1="404.6" x2="431.95" y2="404.6" stroke="#000" stroke-width="1.2"/>
<line x1="429.15" y1="452.2" x2="429.15" y2="456.9" stroke="#000" stroke-width="1.35" fill="none"/>
<text x="429.15" y="468.7" font-size="9.2" text-anchor="middle" >G-CSF</text>
<rect x="459.4" y="363.8" width="31.5" height="88.4" fill="url(#hatch)" stroke="#000" stroke-width="1.2"/>
<line x1="475.15" y1="356.1" x2="475.15" y2="371.5" stroke="#000" stroke-width="1.2"/>
<line x1="472.35" y1="356.1" x2="477.95" y2="356.1" stroke="#000" stroke-width="1.2"/>
<line x1="472.35" y1="371.5" x2="477.95" y2="371.5" stroke="#000" stroke-width="1.2"/>
<line x1="475.15" y1="452.2" x2="475.15" y2="456.9" stroke="#000" stroke-width="1.35" fill="none"/>
<text x="475.15" y="468.7" font-size="9.2" text-anchor="middle" >Epo</text>
<text transform="translate(274.5,366.6) rotate(-90)" font-size="11" text-anchor="middle">CFU-GM per organ</text>
<path d="M387.2 374.8L387.2 372.2M387.2 374.8L389.67 374M387.2 374.8L388.73 376.9M387.2 374.8L385.67 376.9M387.2 374.8L384.73 374" stroke="#000" stroke-width="1.35" stroke-linecap="round"/>
<path d="M434.2 361L434.2 358.4M434.2 361L436.67 360.2M434.2 361L435.73 363.1M434.2 361L432.67 363.1M434.2 361L431.73 360.2" stroke="#000" stroke-width="1.35" stroke-linecap="round"/>
<path d="M482.6 342L482.6 339.4M482.6 342L485.07 341.2M482.6 342L484.13 344.1M482.6 342L481.07 344.1M482.6 342L480.13 341.2" stroke="#000" stroke-width="1.35" stroke-linecap="round"/>
<rect x="69.3" y="505.7" width="185.2" height="184.7" stroke="#1a1a1a" stroke-width="1.1" fill="none"/>
<line x1="69.3" y1="690.4" x2="254.5" y2="690.4" stroke="#000" stroke-width="1.35" fill="none"/>
<line x1="69.3" y1="505.7" x2="69.3" y2="690.4" stroke="#000" stroke-width="1.35" fill="none"/>
<line x1="64.3" y1="690.4" x2="69.3" y2="690.4" stroke="#000" stroke-width="1.35" fill="none"/>
<text x="61.7" y="693.6" font-size="11.5" text-anchor="end" >0</text>
<line x1="64.3" y1="653.46" x2="69.3" y2="653.46" stroke="#000" stroke-width="1.35" fill="none"/>
<text x="61.7" y="656.66" font-size="11.5" text-anchor="end" >25</text>
<line x1="64.3" y1="616.52" x2="69.3" y2="616.52" stroke="#000" stroke-width="1.35" fill="none"/>
<text x="61.7" y="619.72" font-size="11.5" text-anchor="end" >50</text>
<line x1="64.3" y1="579.58" x2="69.3" y2="579.58" stroke="#000" stroke-width="1.35" fill="none"/>
<text x="61.7" y="582.78" font-size="11.5" text-anchor="end" >75</text>
<line x1="64.3" y1="542.64" x2="69.3" y2="542.64" stroke="#000" stroke-width="1.35" fill="none"/>
<text x="61.7" y="545.84" font-size="11.5" text-anchor="end" >100</text>
<line x1="64.3" y1="505.7" x2="69.3" y2="505.7" stroke="#000" stroke-width="1.35" fill="none"/>
<text x="61.7" y="508.9" font-size="11.5" text-anchor="end" >125</text>
<line x1="88" y1="690.4" x2="88" y2="695.2" stroke="#000" stroke-width="1.35" fill="none"/>
<text x="87" y="706.1" font-size="10.6" text-anchor="middle" >Before</text>
<line x1="125" y1="690.4" x2="125" y2="695.2" stroke="#000" stroke-width="1.35" fill="none"/>
<text x="125" y="706.1" font-size="11" text-anchor="middle" >1</text>
<line x1="162" y1="690.4" x2="162" y2="695.2" stroke="#000" stroke-width="1.35" fill="none"/>
<text x="162" y="706.1" font-size="11" text-anchor="middle" >3</text>
<line x1="199" y1="690.4" x2="199" y2="695.2" stroke="#000" stroke-width="1.35" fill="none"/>
<text x="199" y="706.1" font-size="11" text-anchor="middle" >5</text>
<line x1="236" y1="690.4" x2="236" y2="695.2" stroke="#000" stroke-width="1.35" fill="none"/>
<text x="236" y="706.1" font-size="11" text-anchor="middle" >8</text>
<text x="104" y="727.6" font-size="11.25" text-anchor="start" >Weeks after MMC challenge</text>
<text transform="translate(29.9,589.2) rotate(-90)" font-size="10.8" text-anchor="middle">% Survival</text>
<text x="94" y="521.8" font-size="12.4" text-anchor="start" >MMC</text>
<line x1="109" y1="524.6" x2="109" y2="540.8" stroke="#000" stroke-width="1.3"/>
<path d="M106.6 537.2L109 538.4L111.4 537.2L109 545.8Z" fill="#000"/>
<polyline points="88,542.64 125,616.52 162,666.61 199,690.4 236,690.4" stroke="#000" stroke-width="1.2" fill="none"/>
<polyline points="88,542.64 125,567.32 162,567.32 199,567.32 236,567.32" stroke="#000" stroke-width="1.2" fill="none"/>
<polyline points="88,542.64 125,567.32 162,592.73 199,592.73 236,592.73" stroke="#000" stroke-width="1.2" fill="none"/>
<polyline points="88,542.64 125,579.58 162,616.52 199,616.52 236,616.52" stroke="#000" stroke-width="1.2" fill="none"/>
<rect x="120.85" y="612.37" width="8.3" height="8.3" fill="#000"/>
<rect x="157.85" y="662.46" width="8.3" height="8.3" fill="#000"/>
<rect x="194.85" y="686.25" width="8.3" height="8.3" fill="#000"/>
<rect x="231.85" y="686.25" width="8.3" height="8.3" fill="#000"/>
<circle cx="125" cy="567.32" r="4.45" fill="#000"/>
<circle cx="162" cy="567.32" r="4.45" fill="#000"/>
<circle cx="199" cy="567.32" r="4.45" fill="#000"/>
<circle cx="236" cy="567.32" r="4.45" fill="#000"/>
<path d="M125 563.83L128.49 567.32L125 570.8L121.51 567.32Z" fill="#fff" stroke="#000" stroke-width="1.3"/>
<path d="M162 589.24L165.49 592.73L162 596.22L158.51 592.73Z" fill="#fff" stroke="#000" stroke-width="1.3"/>
<path d="M199 589.24L202.49 592.73L199 596.22L195.51 592.73Z" fill="#fff" stroke="#000" stroke-width="1.3"/>
<path d="M236 589.24L239.49 592.73L236 596.22L232.51 592.73Z" fill="#fff" stroke="#000" stroke-width="1.3"/>
<rect x="84.5" y="539.14" width="7" height="7" fill="#fff" stroke="#000" stroke-width="1.3"/>
<rect x="121.5" y="576.08" width="7" height="7" fill="#fff" stroke="#000" stroke-width="1.3"/>
<rect x="158.5" y="613.02" width="7" height="7" fill="#fff" stroke="#000" stroke-width="1.3"/>
<rect x="195.5" y="613.02" width="7" height="7" fill="#fff" stroke="#000" stroke-width="1.3"/>
<rect x="232.5" y="613.02" width="7" height="7" fill="#fff" stroke="#000" stroke-width="1.3"/>
</svg></body></html>
